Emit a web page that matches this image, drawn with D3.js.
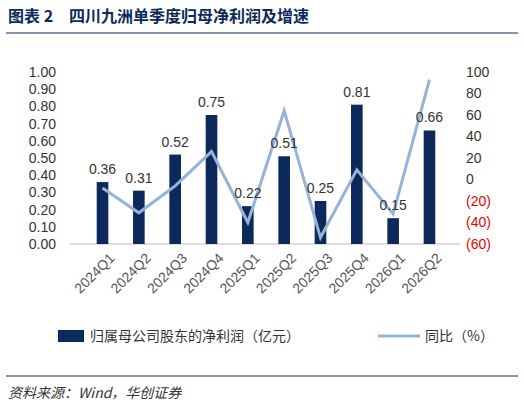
<!DOCTYPE html>
<html><head><meta charset="utf-8">
<script src="https://cdn.jsdelivr.net/npm/d3@7"></script>
<style>body{margin:0;background:#fff;font-family:"Noto Sans CJK SC","Liberation Sans",sans-serif;}</style>
</head><body><svg id="c" width="524" height="413"></svg>
<script>
const quarters = ['2024Q1','2024Q2','2024Q3','2024Q4','2025Q1','2025Q2','2025Q3','2025Q4','2026Q1','2026Q2'];
const profit = [0.36,0.31,0.52,0.75,0.22,0.51,0.25,0.81,0.15,0.66];
const yoy = [-8,-31,-6,26,-40,64,-54,9,-32,93];
const leftTicks = d3.range(0,1.001,0.1);
const rightTicks = d3.range(-60,101,20);

const svg = d3.select('#c');
const navy = '#0b2a5b', lineC = '#94b3d7';
svg.append('text').attr('x',8).attr('y',22).attr('font-size',16).attr('font-weight','bold').attr('fill','#0b2a5b')
  .text('图表 2\u3000四川九洲单季度归母净利润及增速');
svg.append('line').attr('x1',6).attr('x2',518).attr('y1',33).attr('y2',33).attr('stroke','#0b2a5b').attr('stroke-width',1);

const m = {l:62,r:460,t:72,b:244};
const x = d3.scaleBand().domain(quarters).range([m.l+10,m.r]).padding(0.68);
const yL = d3.scaleLinear().domain([0,1]).range([m.b,m.t]);
const yR = d3.scaleLinear().domain([-60,100]).range([m.b,m.t]);

svg.append('g').attr('transform',`translate(${m.l},0)`)
  .call(d3.axisLeft(yL).tickValues(leftTicks).tickFormat(d3.format('.2f')).tickSize(0).tickPadding(6))
  .call(g=>g.select('.domain').remove())
  .selectAll('text').attr('font-size',14).attr('fill','#333').attr('font-family','Liberation Sans');
svg.append('g').attr('transform',`translate(${m.r},0)`)
  .call(d3.axisRight(yR).tickValues(rightTicks).tickFormat(d=>d<0?`(${-d})`:d).tickSize(0).tickPadding(6))
  .call(g=>g.select('.domain').remove())
  .selectAll('text').attr('font-size',14).attr('font-family','Liberation Sans').attr('fill',d=>d<0?'#e00':'#333');

svg.append('line').attr('x1',m.l+8).attr('x2',m.r).attr('y1',m.b).attr('y2',m.b).attr('stroke','#bbb');

svg.selectAll('rect.bar').data(profit).join('rect').attr('class','bar')
  .attr('x',(d,i)=>x(quarters[i])).attr('width',x.bandwidth())
  .attr('y',d=>yL(d)).attr('height',d=>m.b-yL(d)).attr('fill',navy);

svg.append('path').datum(yoy)
  .attr('d',d3.line().x((d,i)=>x(quarters[i])+x.bandwidth()/2).y(d=>yR(d)))
  .attr('fill','none').attr('stroke',lineC).attr('stroke-width',3);

svg.selectAll('text.lab').data(profit).join('text').attr('class','lab')
  .attr('x',(d,i)=>x(quarters[i])+x.bandwidth()/2).attr('y',d=>yL(d)-8)
  .attr('text-anchor','middle').attr('font-size',14).attr('font-family','Liberation Sans').attr('fill','#333')
  .text(d=>d.toFixed(2));

svg.selectAll('text.xl').data(quarters).join('text').attr('class','xl')
  .attr('transform',d=>`translate(${x(d)+x.bandwidth()/2+6},${m.b+8}) rotate(-45)`)
  .attr('text-anchor','end').attr('dy','0.7em').attr('font-size',14).attr('font-family','Liberation Sans').attr('fill','#555')
  .text(d=>d);

const lg = svg.append('g').attr('transform','translate(0,336)');
lg.append('rect').attr('x',58).attr('y',-6).attr('width',26).attr('height',12).attr('fill',navy);
lg.append('text').attr('x',90).attr('y',5).attr('font-size',14).attr('fill','#333').text('归属母公司股东的净利润（亿元）');
lg.append('line').attr('x1',378).attr('x2',420).attr('y1',0).attr('y2',0).attr('stroke',lineC).attr('stroke-width',3);
lg.append('text').attr('x',425).attr('y',5).attr('font-size',14).attr('fill','#333').text('同比（%）');

svg.append('line').attr('x1',6).attr('x2',518).attr('y1',376).attr('y2',376).attr('stroke','#0b2a5b');
svg.append('text').attr('x',8).attr('y',398).attr('font-size',14).attr('font-style','italic').attr('fill','#333')
  .text('资料来源：Wind，华创证券');
</script></body></html>
